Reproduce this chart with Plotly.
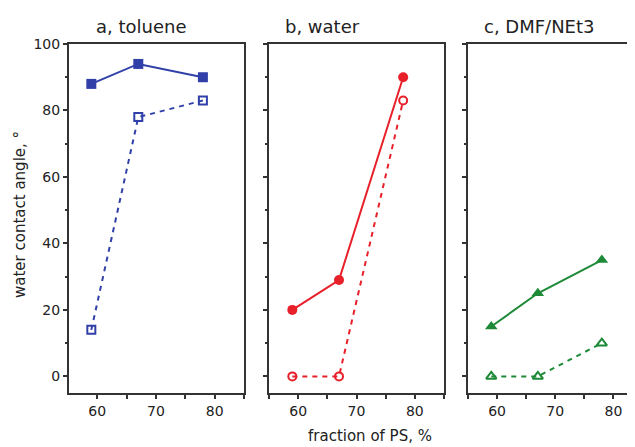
import plotly.graph_objects as go

x_ps = [59, 67, 78]
toluene_solid = [88, 94, 90]
toluene_open = [14, 78, 83]
water_solid = [20, 29, 90]
water_open = [0, 0, 83]
dmf_solid = [15, 25, 35]
dmf_open = [0, 0, 10]
panel_titles = ["a, toluene", "b, water", "c, DMF/NEt3"]
x_ticks = [60, 70, 80]
y_ticks = [0, 20, 40, 60, 80, 100]

BLUE = "#3040a8"
RED = "#e8202a"
GREEN = "#1e8a38"
FONT = "DejaVu Sans"
AX = "#333333"

fig = go.Figure()

def add_pair(solid, opn, color, sym, sym_open, size, ax):
    fig.add_trace(go.Scatter(x=x_ps, y=solid, mode="lines+markers",
                             line=dict(color=color, width=2),
                             marker=dict(symbol=sym, size=size, color=color),
                             xaxis="x" + ax, yaxis="y" + ax, showlegend=False))
    fig.add_trace(go.Scatter(x=x_ps, y=opn, mode="lines+markers",
                             line=dict(color=color, width=2, dash="5px,5px"),
                             marker=dict(symbol=sym_open, size=size - 2, color=color,
                                         line=dict(color=color, width=2)),
                             xaxis="x" + ax, yaxis="y" + ax, showlegend=False))

add_pair(toluene_solid, toluene_open, BLUE, "square", "square-open", 10, "")
add_pair(water_solid, water_open, RED, "circle", "circle-open", 10, "2")
add_pair(dmf_solid, dmf_open, GREEN, "triangle-up", "triangle-up-open", 11, "3")

W, H = 635, 447
OX, OY = 8, 8  # page offset of the plot div


def px(x):
    return (x - OX) / W


def py(y):
    return 1 - (y - OY) / H


ydom = [py(393), py(44)]
panels = [
    ("", [px(69), px(244)], [55.2, 85], True),
    ("2", [px(269), px(444)], [55, 85], True),
    ("3", [px(468), px(635)], [55, 83.7], False),
]

layout = dict(
    width=W, height=H,
    margin=dict(l=0, r=0, t=0, b=0, autoexpand=False),
    paper_bgcolor="white", plot_bgcolor="white",
    font=dict(family=FONT, size=14, color="#222222"),
)

for i, (s, dom, xr, mirror_y) in enumerate(panels):
    layout["xaxis" + s] = dict(
        domain=dom, range=xr, tickvals=x_ticks, ticks="outside", ticklen=4,
        tickwidth=1.5, tickcolor=AX, showline=True, linecolor=AX, linewidth=2,
        mirror=True, showgrid=False, zeroline=False, automargin=False,
        tickfont=dict(family=FONT, size=14, color="#222222"),
        minor=dict(dtick=5, tick0=0, ticks="outside", ticklen=4, tickcolor=AX, tickwidth=1.5),
        anchor="y" + s,
    )
    layout["yaxis" + s] = dict(
        domain=ydom, range=[-5, 100], tickvals=y_ticks, ticks="outside", ticklen=4,
        tickwidth=1.5, tickcolor=AX, showline=True, linecolor=AX, linewidth=2,
        mirror=mirror_y, showgrid=False, zeroline=False, automargin=False,
        showticklabels=(i == 0),
        tickfont=dict(family=FONT, size=14, color="#222222"),
        minor=dict(dtick=10, tick0=0, ticks="outside", ticklen=2, tickcolor=AX, tickwidth=1.5),
        anchor="x" + s,
    )

title_x = [94, 283, 482]
annotations = []
for t, xp in zip(panel_titles, title_x):
    annotations.append(dict(text=t, x=px(xp), y=py(27), xref="paper", yref="paper",
                            xanchor="left", yanchor="middle", showarrow=False,
                            font=dict(family=FONT, size=18, color="#222222")))
annotations.append(dict(text="fraction of PS, %", x=px(370), y=py(436),
                        xref="paper", yref="paper", xanchor="center", yanchor="middle",
                        showarrow=False, font=dict(family=FONT, size=15, color="#222222")))
annotations.append(dict(text="water contact angle, °", x=px(20), y=py(215),
                        xref="paper", yref="paper", xanchor="center", yanchor="middle",
                        textangle=-90, showarrow=False,
                        font=dict(family=FONT, size=15, color="#222222")))
layout["annotations"] = annotations

fig.update_layout(**layout)
fig.write_html("out.html")
